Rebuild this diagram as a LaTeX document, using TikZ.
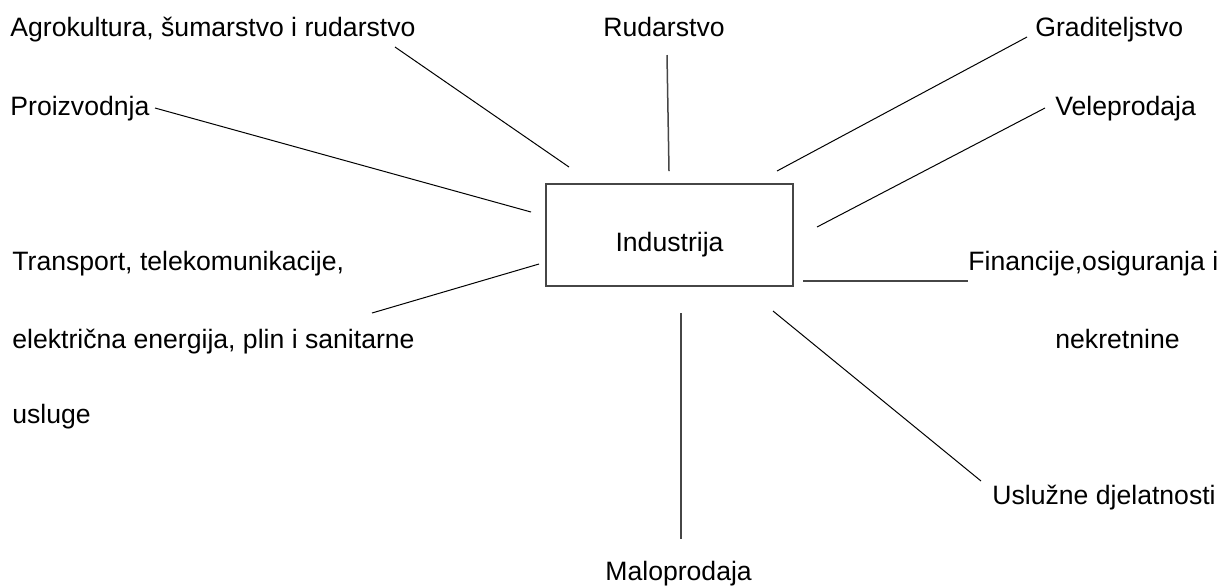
\documentclass[tikz,border=0pt]{standalone}
\usepackage{fontspec}
\setmainfont{Liberation Sans}
\definecolor{boxgray}{RGB}{70,70,70}

\begin{document}
\begin{tikzpicture}[x=0.5pt, y=-0.5pt, every node/.style={font=\fontsize{13.3}{16}\selectfont}]
    \tikzstyle{label} = [inner sep=0pt, anchor=base west]
    \tikzstyle{centre} = [rectangle, draw=boxgray, line width=0.65pt,
        minimum width=123.5pt, minimum height=51pt, inner sep=0pt]
    \tikzstyle{spoke} = [line width=0.5pt, color=black]
    \tikzstyle{stem} = [line width=0.75pt, color=boxgray]

    \useasboundingbox (0,0) rectangle (1219,586);

    \node [centre] (industry) at (669.5,235) {};
    \node [inner sep=0pt, anchor=base] (industrytext) at (669.5,251) {Industrija};

    \node [label] (agro) at (10,36) {Agrokultura, šumarstvo i rudarstvo};
    \node [label] (mining) at (603,36) {Rudarstvo};
    \node [label] (build) at (1035,36) {Graditeljstvo};
    \node [label] (manuf) at (10,115) {Proizvodnja};
    \node [label] (wholesale) at (1055,115) {Veleprodaja};
    \node [label] (transport) at (12,270) {Transport, telekomunikacije,};
    \node [label] (transport2) at (12,348) {električna energija, plin i sanitarne};
    \node [label] (transport3) at (12,423) {usluge};
    \node [label] (finance) at (968,270) {Financije,osiguranja i};
    \node [label] (finance2) at (1055,348) {nekretnine};
    \node [label] (services) at (992,504) {Uslužne djelatnosti};
    \node [label] (retail) at (605,580) {Maloprodaja};

    \coordinate (agroA) at (395,47);      \coordinate (agroB) at (569,167);
    \coordinate (manufA) at (155,108);    \coordinate (manufB) at (531,212);
    \coordinate (miningA) at (667,55);    \coordinate (miningB) at (669,171);
    \coordinate (buildA) at (1027,37);    \coordinate (buildB) at (777,171);
    \coordinate (wholesaleA) at (1045,108); \coordinate (wholesaleB) at (817,227);
    \coordinate (financeA) at (803,281);  \coordinate (financeB) at (968,281);
    \coordinate (transportA) at (372,313); \coordinate (transportB) at (539,264);
    \coordinate (retailA) at (681,313);   \coordinate (retailB) at (681,539);
    \coordinate (servicesA) at (773,311); \coordinate (servicesB) at (981,481);

    \draw [spoke] (agroA) -- (agroB);
    \draw [spoke] (manufA) -- (manufB);
    \draw [stem] (miningA) -- (miningB);
    \draw [spoke] (buildA) -- (buildB);
    \draw [spoke] (wholesaleA) -- (wholesaleB);
    \draw [stem] (financeA) -- (financeB);
    \draw [spoke] (transportA) -- (transportB);
    \draw [stem] (retailA) -- (retailB);
    \draw [spoke] (servicesA) -- (servicesB);
\end{tikzpicture}
\end{document}
